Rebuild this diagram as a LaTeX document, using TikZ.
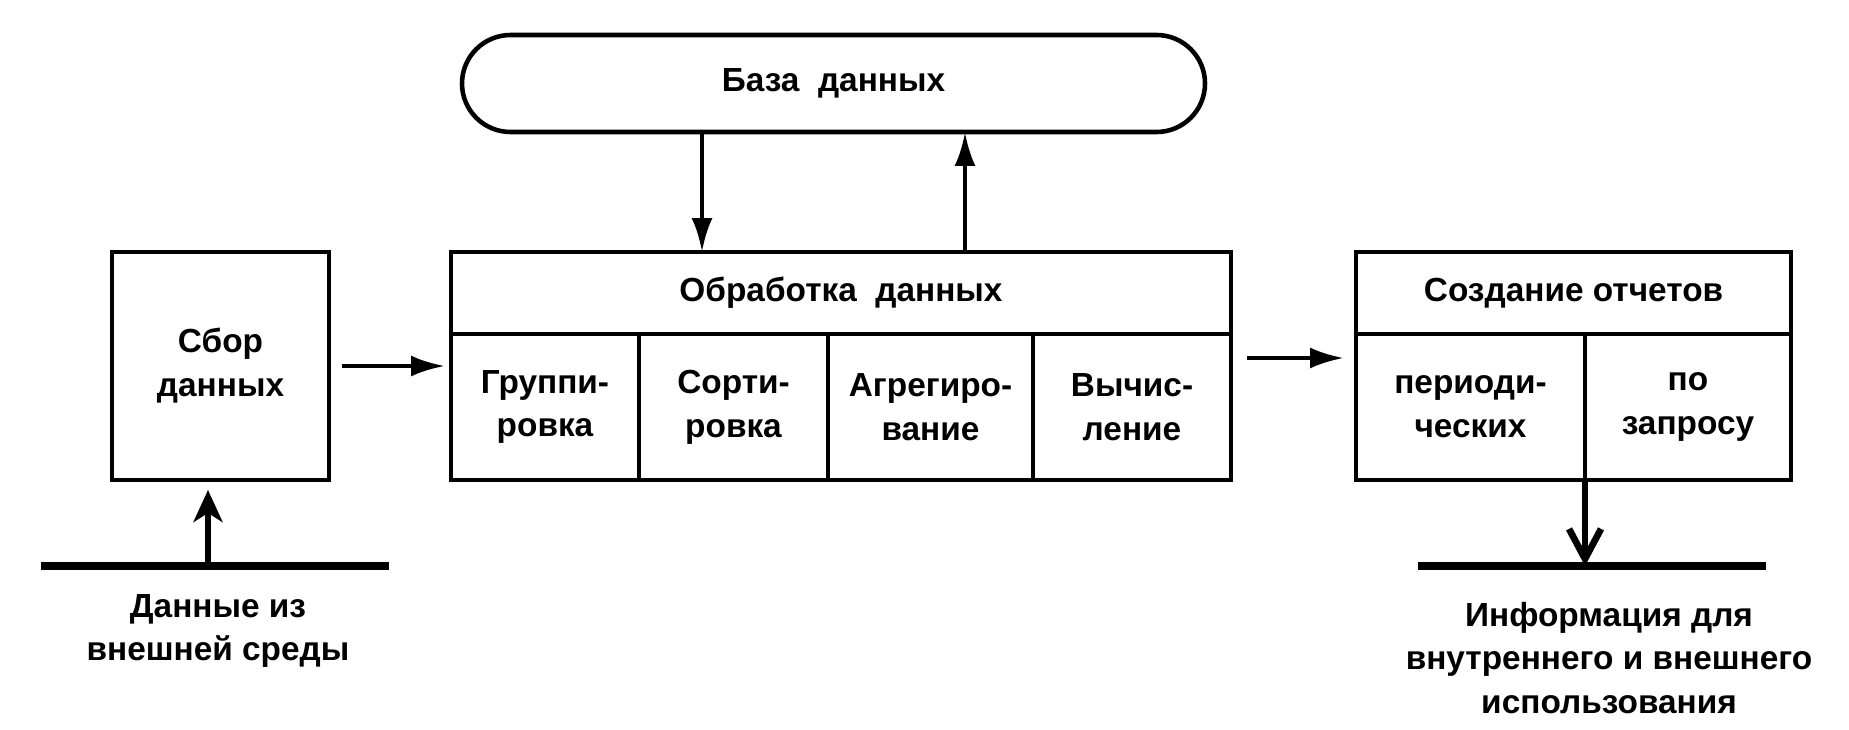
\documentclass[tikz,border=0pt]{standalone}
\usepackage{fontspec}
\setmainfont{Liberation Sans}
\usetikzlibrary{arrows.meta,positioning}

\begin{document}
\begin{tikzpicture}[x=0.1mm,y=-0.1mm,line width=1.3pt,
	every node/.style={font=\bfseries\fontsize{9.5}{12.5}\selectfont,align=center},
	box/.style={draw,inner sep=0pt,outer sep=0pt},
	cell/.style={box,minimum height=14.6mm,anchor=north west},
	arr/.style={-{Latex[length=3.4mm,width=2.1mm]}},
	uparr/.style={-{Stealth[length=3.2mm,width=2.9mm,inset=0.9mm]},line width=1.8pt},
	barb/.style={-{Straight Barb[length=3mm,width=3.2mm]},line width=1.9pt},
	ground/.style={line width=2.2pt}]
	\useasboundingbox (0,0) rectangle (1849,730);
	% database
	\node[box,minimum width=74.3mm,minimum height=9.7mm,rounded corners=4.85mm] (db) at (833.5,83.5) {База~ данных};
	% collecting
	\node[box,minimum width=21.7mm,minimum height=22.8mm] (sbor) at (220.5,366) {Сбор\\данных};
	% processing
	\node[box,minimum width=78mm,minimum height=8.2mm] (proc) at (841,293) {Обработка~ данных};
	\node[cell,minimum width=18.8mm] (grp) at (proc.south west) {Группи-\\ровка};
	\node[cell,minimum width=18.9mm] (srt) at (grp.north east) {Сорти-\\ровка};
	\node[cell,minimum width=20.5mm] (agg) at (srt.north east) {Агрегиро-\\вание};
	\node[cell,minimum width=19.8mm] (calc) at (agg.north east) {Вычис-\\ление};
	% reports
	\node[box,minimum width=43.5mm,minimum height=8.2mm] (rep) at (1573.5,293) {Создание отчетов};
	\node[cell,minimum width=22.9mm] (per) at (rep.south west) {периоди-\\ческих};
	\node[cell,minimum width=20.6mm] (req) at (per.north east) {по\\запросу};
	% outside
	\coordinate (inL) at (41,566);
	\coordinate (inR) at (389,566);
	\coordinate (inA) at (208,566);
	\coordinate (outL) at (1418,566);
	\coordinate (outR) at (1766,566);
	\node (src) at (218,631) {Данные из\\внешней среды};
	\node (info) at (1609,658) {Информация для\\внутреннего и внешнего\\использования};
	% lines and arrows
	\draw[ground] (inL) -- (inR);
	\draw[ground] (outL) -- (outR);
	\draw[uparr] (inA) -- ([yshift=-1mm]inA |- sbor.south);
	\draw[arr] ([xshift=1.3mm]sbor.east) -- ([xshift=-0.6mm]sbor.east -| grp.west);
	\draw[arr] ([xshift=-13.15mm]db.south) -- ([xshift=-13.15mm]db.south |- proc.north);
	\draw[arr] ([xshift=13.15mm]db.south |- proc.north) -- ([xshift=13.15mm]db.south);
	\draw[arr] ([shift={(16,-49)}]calc.east) -- ([shift={(-12,-49)}]per.west);
	\draw[barb] (per.south east) -- (per.south east |- outL);
\end{tikzpicture}
\end{document}
